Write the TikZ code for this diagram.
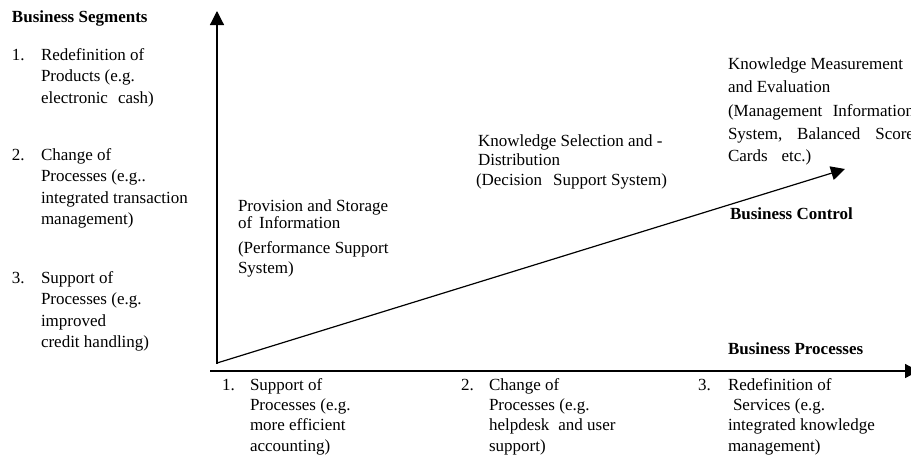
\documentclass[tikz,border=0pt]{standalone}
\usepackage{fontspec}
\setmainfont{Liberation Serif}
\usetikzlibrary{arrows.meta}
\begin{document}
\begin{tikzpicture}[x=1pt,y=-1pt,
  txt/.style={anchor=base west, inner sep=0pt, outer sep=0pt, align=left, font=\fontsize{17}{21.5}\selectfont},
  bold/.style={txt, font=\fontsize{17}{21}\selectfont\bfseries},
  axis/.style={line width=1.2pt, -{Triangle[length=14pt,width=14pt]}}]
\useasboundingbox (0,0) rectangle (911,459);
% axes
\coordinate (vbot) at (217,364);
\coordinate (vtop) at (217,11);
\coordinate (hbeg) at (210,371);
\coordinate (hend) at (919,371);
\coordinate (dbeg) at (217,363);
\coordinate (dend) at (845,169);
\draw[axis] (vbot) -- (vtop);
\draw[axis] (hbeg) -- (hend);
\draw[axis] (dbeg) -- (dend);
% left list (multi-line nodes are placed at the baseline of their last line)
\node[bold] (bs) at (12,22) {Business Segments};
\node[txt] (n1) at (12,60) {1.};
\node[txt] (t1) at (41,103) {Redefinition of\\Products (e.g.\\electronic\hspace{10pt}cash)};
\node[txt] (n2) at (12,160) {2.};
\node[txt] (t2) at (41,224.5) {Change of\\Processes (e.g..\\integrated transaction\\management)};
\node[txt] (n3) at (12,283) {3.};
\node[txt] (t3) at (41,347.5) {Support of\\Processes (e.g.\\improved\\credit handling)};
% middle texts
\node[txt] (prov) at (238,273) {Provision and Storage\\[-4.5pt]of\hspace{7pt}Information\\[3.5pt](Performance Support\\[-1.5pt]System)};
\node[txt, font=\fontsize{17}{19.5}\selectfont] (ksd) at (478,185) {Knowledge Selection and -\\Distribution\\\hspace*{-2pt}(Decision\hspace{11pt}Support System)};
\node[txt, font=\fontsize{17}{23}\selectfont] (kme) at (728,161) {Knowledge Measurement\\and Evaluation\\[1pt]\hbox to 186pt{(Management\hfill Information}\\\hbox to 186pt{System,\hfill Balanced\hfill Score}\\[-1pt]Cards\hspace{14pt}etc.)};
\node[bold] (bc) at (730,219) {Business Control};
\node[bold] (bp) at (728,354) {Business Processes};
% bottom list
\node[txt] (b1n) at (222,390) {1.};
\node[txt, font=\fontsize{17}{20.4}\selectfont] (b1) at (250,451.2) {Support of\\Processes (e.g.\\more efficient\\accounting)};
\node[txt] (b2n) at (461,390) {2.};
\node[txt, font=\fontsize{17}{20.4}\selectfont] (b2) at (489,451.2) {Change of\\Processes (e.g.\\helpdesk\hspace{9pt}and user\\support)};
\node[txt] (b3n) at (698,390) {3.};
\node[txt, font=\fontsize{17}{20.4}\selectfont] (b3) at (728,451.2) {Redefinition of\\\hspace*{5pt}Services (e.g.\\integrated knowledge\\management)};
\end{tikzpicture}
\end{document}
